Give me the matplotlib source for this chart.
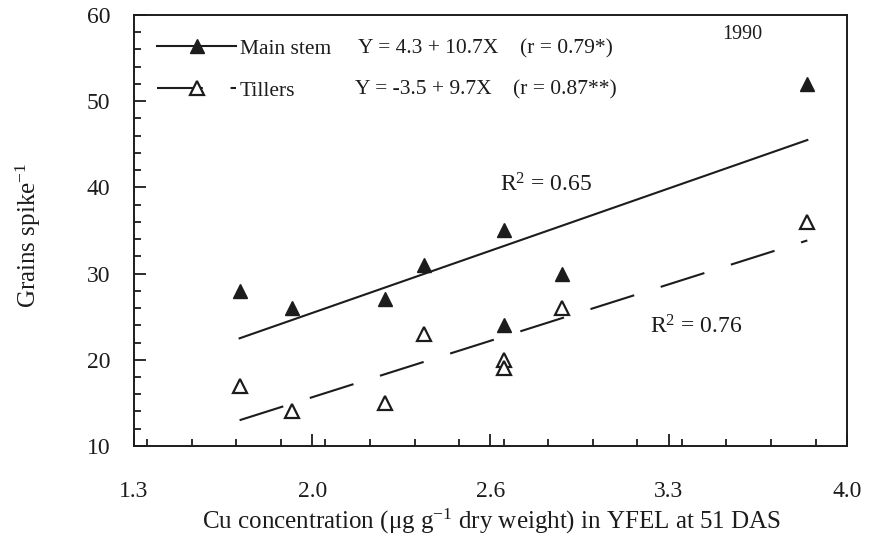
import numpy as np
import matplotlib
matplotlib.use("Agg")
import matplotlib.pyplot as plt
from matplotlib.lines import Line2D
from matplotlib.ticker import FixedLocator, MultipleLocator

plt.rcParams['font.family'] = ['Liberation Serif', 'DejaVu Serif']
plt.rcParams['mathtext.fontset'] = 'custom'
plt.rcParams['mathtext.rm'] = 'Liberation Serif'
plt.rcParams['mathtext.it'] = 'Liberation Serif:italic'
plt.rcParams['lines.scale_dashes'] = False

ink = '#1c1c1c'

# Cu concentration (x) and grains per spike
cu = [1.70, 1.90, 2.25, 2.40, 2.70, 2.70, 2.92, 3.85]
main_stem = [28, 26, 27, 31, 35, 24, 30, 52]
tillers = [17, 14, 15, 23, 20, 19, 26, 36]

# regression equations printed in the legend
main_fit = (4.3, 10.7)
till_fit = (-3.5, 9.7)

x_ticks = [1.3, 1.975, 2.65, 3.325, 4.0]
x_labels = ['1.3', '2.0', '2.6', '3.3', '4.0']

fig = plt.figure(figsize=(8.7, 5.37), dpi=100)
ax = fig.add_axes([0.154, 0.1695, 0.8195, 0.8026])

dash = (0, (33, 20))

xf = np.array([min(cu), max(cu)])
ax.plot(xf, main_fit[0] + main_fit[1] * xf, color=ink, lw=1.5)
ax.plot(xf, till_fit[0] + till_fit[1] * xf, color=ink, lw=1.5, linestyle=dash)

ax.plot(cu, main_stem, linestyle='none', marker='^', ms=9.5,
        mfc=ink, mec=ink, mew=1.0)
ax.plot(cu, tillers, linestyle='none', marker='^', ms=9.5,
        mfc='white', mec=ink, mew=1.6)

ax.set_xlim(1.3, 4.0)
ax.set_ylim(10, 60)
ax.xaxis.set_major_locator(FixedLocator(x_ticks))
ax.set_xticklabels(x_labels)
ax.xaxis.set_minor_locator(MultipleLocator(0.16875))
ax.yaxis.set_major_locator(MultipleLocator(10))
ax.yaxis.set_minor_locator(MultipleLocator(2))

ax.tick_params(which='both', direction='in', color=ink, width=1.3,
               top=False, right=False)
ax.tick_params(which='major', length=8.5)
ax.tick_params(which='minor', length=5)
ax.tick_params(axis='x', which='major', pad=25, labelsize=17, labelcolor=ink)
ax.tick_params(axis='y', which='major', pad=17, labelsize=17, labelcolor=ink)
for s in ax.spines.values():
    s.set_linewidth(1.4)
    s.set_color(ink)

ax.set_xlabel(r'Cu concentration ($\mathregular{\mu}$g g$^{\mathregular{-1}}$ dry weight) in YFEL at 51 DAS',
              fontsize=18, color=ink)
ax.xaxis.set_label_coords(0.502, -0.142)
ax.set_ylabel(r'Grains spike$^{\mathregular{-1}}$', fontsize=18, color=ink)
ax.yaxis.set_label_coords(-0.127, 0.49)

handles = [
    Line2D([], [], color=ink, lw=1.5, marker='^', ms=9.5, mfc=ink, mec=ink),
    Line2D([], [], color=ink, lw=1.5, linestyle=dash, marker='^', ms=9.5,
           mfc='white', mec=ink, mew=1.6),
]
ax.legend(handles, ['Main stem', 'Tillers'], loc='upper left',
          bbox_to_anchor=(0.032, 0.945), frameon=False, fontsize=15.5,
          handlelength=3.7, handletextpad=0.15, labelspacing=1.03,
          borderpad=0, borderaxespad=0, numpoints=1, labelcolor=ink)

eq_font = dict(fontsize=15.5, color=ink, va='center', transform=ax.transAxes)
ax.text(0.314, 0.922, 'Y = 4.3 + 10.7X', **eq_font)
ax.text(0.541, 0.922, '(r = 0.79*)', **eq_font)
ax.text(0.310, 0.827, 'Y = -3.5 + 9.7X', **eq_font)
ax.text(0.532, 0.827, '(r = 0.87**)', **eq_font)
ax.text(0.853, 0.954, '1990', fontsize=14.5, color=ink, ha='center', va='center',
        transform=ax.transAxes)

ax.text(2.686, 40.3, r'R$^{\mathregular{2}}$ = 0.65', fontsize=17, color=ink, va='center')
ax.text(3.255, 23.8, r'R$^{\mathregular{2}}$ = 0.76', fontsize=17, color=ink, va='center')

fig.savefig('out.png', dpi=100, facecolor='white')
